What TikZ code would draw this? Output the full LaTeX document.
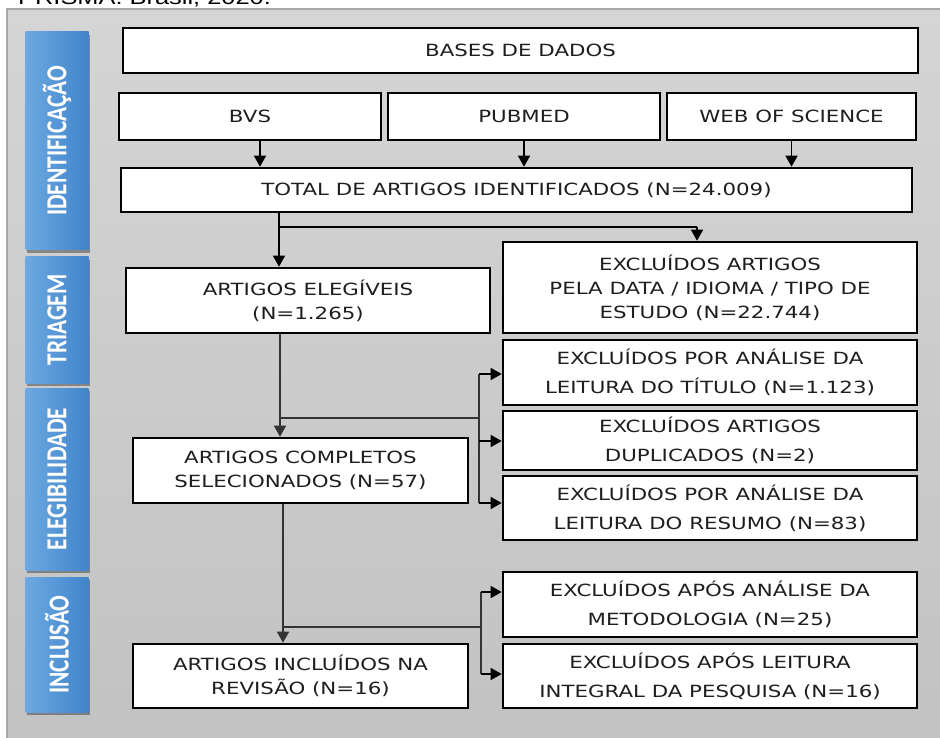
\documentclass[tikz,border=0pt]{standalone}
\usepackage{fontspec}
\setmainfont{DejaVu Sans}[FakeStretch=1.27]
\newfontfamily\tabfont{Carlito}[FakeStretch=0.8]
\newfontfamily\capfont{Liberation Sans}[FakeStretch=1.27]
\usetikzlibrary{arrows.meta,shadows,calc}
\definecolor{txt}{HTML}{1E1E1E}
\definecolor{tabL}{HTML}{6DA9E2}
\definecolor{tabR}{HTML}{3F84CA}
\definecolor{panT}{HTML}{D5D5D5}
\definecolor{panB}{HTML}{C2C2C2}
\definecolor{panE}{HTML}{A9A9A9}
\tikzset{
  box/.style={draw=black, line width=2.6pt, fill=white, inner sep=0pt, align=center,
    text=txt, font=\fontsize{16.8}{24}\selectfont},
  boxw/.style={box, font=\fontsize{16.8}{29}\selectfont},
  tabbox/.style={left color=tabL, right color=tabR, draw=none, inner sep=0pt,
    minimum width=63pt,
    drop shadow={shadow xshift=1pt, shadow yshift=-3pt, fill=black, opacity=0.35}},
  tabtext/.style={rotate=90, text=white, inner sep=0pt,
    font=\tabfont\bfseries\fontsize{29}{29}\selectfont},
  arr/.style={-{Triangle[length=11pt,width=12pt]}, line width=1.5pt, draw=black},
  arrg/.style={arr, draw=black!80},
  ln/.style={line width=1.5pt, draw=black},
  lng/.style={ln, draw=black!80}
}
\begin{document}
\begin{tikzpicture}[x=1pt,y=-1pt]
\useasboundingbox (0,0) rectangle (940,738);
\fill[white] (0,0) rectangle (940,738);
% panel
\fill[top color=panT, bottom color=panB] (7,9) rectangle (945,745);
\draw[panE, line width=1.2pt] (7,745) -- (7,9) -- (945,9);
% caption (cut off at top, as in the reference)
\node[anchor=base west, inner sep=0pt, text=black, font=\capfont\fontsize{20}{24}\selectfont] (cap) at (18,5) {PRISMA. Brasil, 2020.};
% stage tabs
\node[tabbox, minimum height=218pt] (t1) at (57,141) {};
\node[tabtext] (t1l) at (t1) {IDENTIFICAÇÃO};
\node[tabbox, minimum height=126pt] (t2) at (57,320) {};
\node[tabtext] (t2l) at (t2) {TRIAGEM};
\node[tabbox, minimum height=182pt] (t3) at (57,479) {};
\node[tabtext] (t3l) at (t3) {ELEGIBILIDADE};
\node[tabbox, minimum height=135pt] (t4) at (57,644.5) {};
\node[tabtext] (t4l) at (t4) {INCLUSÃO};
% boxes
\node[box, minimum width=795pt, minimum height=45pt] (bases) at (520.5,50.5) {BASES DE DADOS};
\node[box, minimum width=262pt, minimum height=47pt] (bvs) at (250,116.5) {BVS};
\node[box, minimum width=272pt, minimum height=47pt] (pubmed) at (524,116.5) {PUBMED};
\node[box, minimum width=249pt, minimum height=47pt] (wos) at (791.5,116.5) {WEB OF SCIENCE};
\node[box, minimum width=791pt, minimum height=44pt] (total) at (516.5,190) {TOTAL DE ARTIGOS IDENTIFICADOS (N=24.009)};
\node[box, minimum width=364pt, minimum height=65pt] (eleg) at (308,300.5) {ARTIGOS ELEGÍVEIS\\(N=1.265)};
\node[box, minimum width=414pt, minimum height=91pt] (excl1) at (710,287.5) {EXCLUÍDOS ARTIGOS\\PELA DATA / IDIOMA / TIPO DE\\ESTUDO (N=22.744)};
\node[boxw, minimum width=414pt, minimum height=65pt] (titulo) at (710,372.5) {EXCLUÍDOS POR ANÁLISE DA\\LEITURA DO TÍTULO (N=1.123)};
\node[boxw, minimum width=414pt, minimum height=59pt] (dup) at (710,440.5) {EXCLUÍDOS ARTIGOS\\DUPLICADOS (N=2)};
\node[boxw, minimum width=414pt, minimum height=64pt] (resumo) at (710,508) {EXCLUÍDOS POR ANÁLISE DA\\LEITURA DO RESUMO (N=83)};
\node[box, minimum width=335pt, minimum height=65pt] (compl) at (300.5,470.5) {ARTIGOS COMPLETOS\\SELECIONADOS (N=57)};
\node[boxw, minimum width=414pt, minimum height=65pt] (metod) at (710,604.5) {EXCLUÍDOS APÓS ANÁLISE DA\\METODOLOGIA (N=25)};
\node[boxw, minimum width=414pt, minimum height=64pt] (integral) at (710,676) {EXCLUÍDOS APÓS LEITURA\\INTEGRAL DA PESQUISA (N=16)};
\node[box, minimum width=335pt, minimum height=64pt] (incl) at (300.5,676) {ARTIGOS INCLUÍDOS NA\\REVISÃO (N=16)};
% connectors: databases
\draw[arr] ([xshift=10pt]bvs.south) -- ([xshift=10pt]bvs.south |- total.north);
\draw[arr] (pubmed.south) -- (pubmed.south |- total.north);
\draw[arr] (wos.south) -- (wos.south |- total.north);
% total -> eligible / excluded
\coordinate (j1) at (279,227);
\coordinate (b1) at (697,227);
\draw[arr] (j1 |- total.south) -- (j1 |- eleg.north);
\draw[ln] (j1) -- (b1);
\draw[arr] (b1) -- (b1 |- excl1.north);
% eligible -> complete
\coordinate (j2) at (280,418);
\coordinate (v2t) at (479,374);
\coordinate (v2m) at (479,441);
\coordinate (v2b) at (479,503);
\draw[arrg] (j2 |- eleg.south) -- (j2 |- compl.north);
\draw[lng] (j2) -- (j2 -| v2t);
\draw[lng] (v2t) -- (v2b);
\draw[arr] (v2t) -- (v2t -| titulo.west);
\draw[arr] (v2m) -- (v2m -| dup.west);
\draw[arr] (v2b) -- (v2b -| resumo.west);
% complete -> included
\coordinate (j3) at (283,627);
\coordinate (v3t) at (481,592);
\coordinate (v3b) at (481,674);
\draw[arrg] (j3 |- compl.south) -- (j3 |- incl.north);
\draw[lng] (j3) -- (j3 -| v3t);
\draw[lng] (v3t) -- (v3b);
\draw[arr] (v3t) -- (v3t -| metod.west);
\draw[arr] (v3b) -- (v3b -| integral.west);
\end{tikzpicture}
\end{document}
